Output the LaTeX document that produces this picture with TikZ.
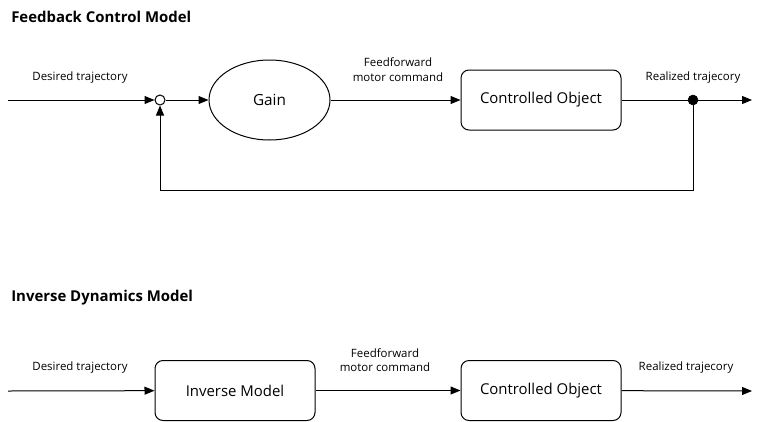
\documentclass[tikz,border=0pt]{standalone}
\usepackage{fontspec}
\setmainfont{Open Sans}
\usetikzlibrary{arrows.meta,shapes.geometric}
\begin{document}
\begin{tikzpicture}[x=0.75pt,y=-0.75pt,
  conn/.style={line width=0.75pt,-{Triangle[length=7.5pt,width=6pt]}},
  plain/.style={line width=0.75pt},
  block/.style={draw,line width=0.75pt,rounded corners=6pt,minimum width=120pt,minimum height=45pt,inner sep=0pt,font=\fontsize{11.2}{13}\selectfont},
  lbl/.style={font=\fontsize{8.6}{11}\selectfont,align=center,inner sep=0pt},
  ttl/.style={font=\bfseries\fontsize{11.2}{13}\selectfont,anchor=west,inner sep=0pt}]
\useasboundingbox (0,0) rectangle (766,421);
% ---- Feedback Control Model ----
\node[ttl] (t1) at (11,17) {Feedback Control Model};
\coordinate (in1) at (8,100);
\node[draw,circle,line width=0.75pt,minimum size=7.5pt,inner sep=0pt] (sum) at (160,100) {};
\node[draw,ellipse,line width=0.75pt,minimum width=90.75pt,minimum height=60pt,inner sep=0pt,font=\fontsize{11.5}{13}\selectfont] (gain) at (269.5,100) {Gain};
\node[block] (plant1) at (541,100) {Controlled Object};
\node[draw,circle,fill=black,minimum size=7.5pt,inner sep=0pt] (dot) at (693,100) {};
\coordinate (out1) at (752,100);
\coordinate (fbR) at (693,190);
\coordinate (fbL) at (160,190);
\draw[conn] (in1) -- (sum);
\draw[conn] (sum) -- (gain);
\draw[conn] (gain) -- (plant1);
\draw[plain] (plant1) -- (dot);
\draw[conn] (dot) -- (out1);
\draw[conn] (dot) -- (fbR) -- (fbL) -- (sum);
\node[lbl] (l1) at (80,78) {Desired trajectory};
\node[lbl] (l2) at (398,70) {Feedforward\\motor command};
\node[lbl] (l3) at (693,78) {Realized trajecory};
% ---- Inverse Dynamics Model ----
\node[ttl] (t2) at (11,298) {Inverse Dynamics Model};
\coordinate (in2) at (8,391);
\node[block] (inv) at (235,390.5) {Inverse Model};
\node[block] (plant2) at (541,390.5) {Controlled Object};
\coordinate (out2) at (752,391);
\draw[conn] (in2) -- (inv);
\draw[conn] (inv) -- (plant2);
\draw[conn] (plant2) -- (out2);
\node[lbl] (l4) at (80,368) {Desired trajectory};
\node[lbl] (l5) at (385,360) {Feedforward\\motor command};
\node[lbl] (l6) at (686,368) {Realized trajecory};
\end{tikzpicture}
\end{document}
